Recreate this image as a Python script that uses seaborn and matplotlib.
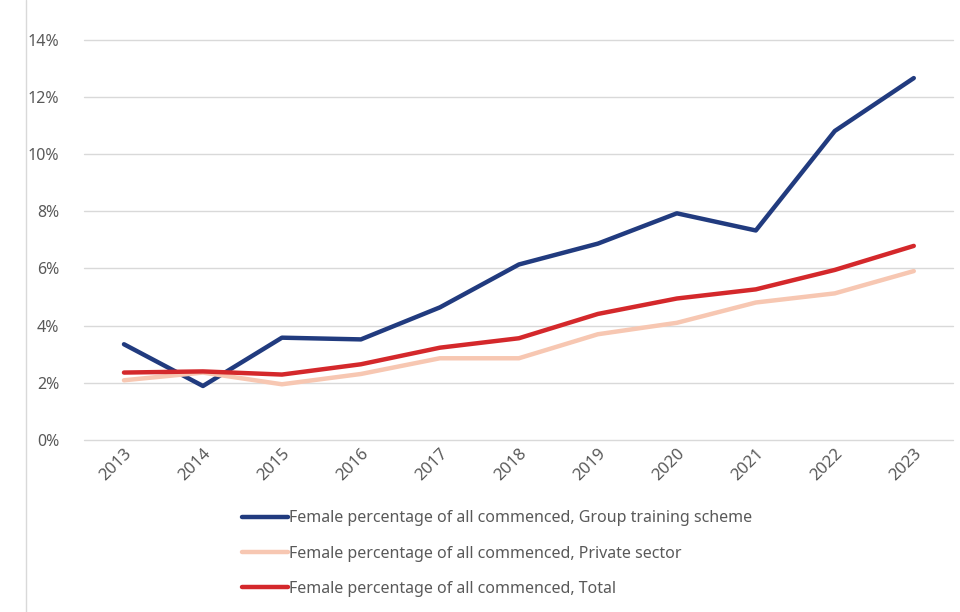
import matplotlib
matplotlib.use("Agg")
import matplotlib.pyplot as plt
import seaborn as sns
import pandas as pd
from matplotlib.lines import Line2D
from matplotlib.ticker import PercentFormatter


years = [str(y) for y in range(2013, 2024)]
group_training = [3.35, 1.89, 3.58, 3.52, 4.64, 6.14, 6.87, 7.93, 7.33, 10.81, 12.66]
private_sector = [2.09, 2.36, 1.95, 2.31, 2.86, 2.86, 3.70, 4.10, 4.81, 5.13, 5.91]
total = [2.36, 2.40, 2.29, 2.65, 3.23, 3.56, 4.41, 4.95, 5.27, 5.95, 6.79]

series_names = [
    "Female percentage of all commenced, Group training scheme",
    "Female percentage of all commenced, Private sector",
    "Female percentage of all commenced, Total",
]
colors = ["#213B7F", "#F7C7B2", "#D4282B"]

df = pd.DataFrame(
    {
        "Year": years * 3,
        "Value": group_training + private_sector + total,
        "Series": [s for s in series_names for _ in years],
    }
)

sns.set_theme(style="white")
plt.rcParams["font.family"] = ["Noto Sans", "DejaVu Sans"]

fig = plt.figure(figsize=(9.6, 6.12), dpi=100)
ax = fig.add_axes([0.088, 0.281, 0.905, 0.654])

sns.lineplot(
    data=df,
    x="Year",
    y="Value",
    hue="Series",
    palette=colors,
    linewidth=3.2,
    ax=ax,
    legend=False,
)

ax.set_ylim(0, 14)
ax.set_xlim(-0.5, len(years) - 0.5)
ax.set_yticks(range(0, 15, 2))
ax.yaxis.set_major_formatter(PercentFormatter(decimals=0))
ax.grid(axis="y", color="#d9d9d9", linewidth=1)
for gl in ax.get_ygridlines():
    gl.set_clip_on(False)
ax.set_axisbelow(True)
for sp in ax.spines.values():
    sp.set_visible(False)
ax.set_xlabel("")
ax.set_ylabel("")
ax.tick_params(axis="both", length=0, labelsize=11.5, colors="#595959")
ax.tick_params(axis="y", pad=18)
ax.tick_params(axis="x", labelsize=12, pad=4)
plt.setp(ax.get_xticklabels(), rotation=45, ha="right", rotation_mode="anchor")

handles = [Line2D([0], [0], color=c, linewidth=3.2) for c in colors]
fig.legend(
    handles,
    series_names,
    loc="upper left",
    bbox_to_anchor=(0.252, 0.166),
    frameon=False,
    fontsize=11.5,
    handlelength=2.9,
    handletextpad=0.05,
    labelspacing=1.2,
    labelcolor="#595959",
    borderaxespad=0,
    borderpad=0,
)

# thin border line at the left edge of the image
fig.add_artist(Line2D([0.027, 0.027], [0, 1], transform=fig.transFigure, color="#d9d9d9", linewidth=1))

fig.savefig("out.png", dpi=100)
